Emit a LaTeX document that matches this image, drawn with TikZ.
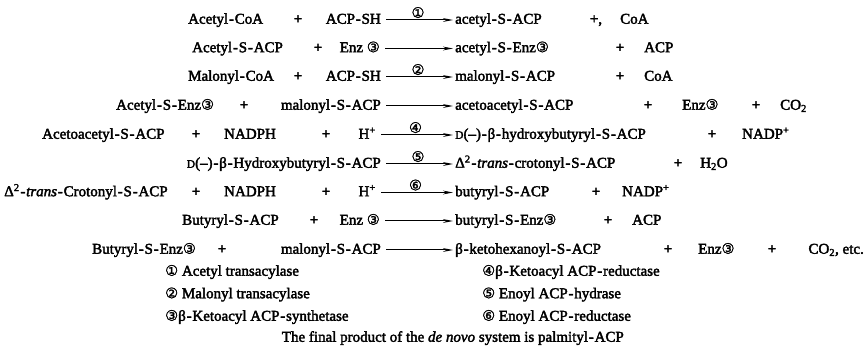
\documentclass[tikz,border=0pt]{standalone}
\usepackage{fontspec}
\setmainfont{Liberation Serif}[FakeBold=2.4]
\newfontfamily\symf{DejaVu Sans}[FakeBold=1.5]
\usetikzlibrary{arrows.meta}
\newcommand\hy{\kern0.8pt-\kern0.8pt}
\newcommand\cn[1]{{\symf\fontsize{14.5}{14.5}\selectfont #1}}
\newcommand\dsc{{\fontsize{11.5}{11.5}\selectfont D}}
\tikzset{
  term/.style={inner sep=0pt, text height=7.5pt, text depth=0pt, font=\fontsize{15}{16}\selectfont},
  tw/.style={term, anchor=west},
  te/.style={term, anchor=east},
  plus/.style={term, anchor=center},
  rx/.style={-{Stealth[length=10pt,width=3.8pt]}, line width=1pt, shorten <=5pt, shorten >=2pt},
  enz/.style={above=1.5pt, inner sep=0pt},
  leg/.style={term, anchor=west},
}
\begin{document}
\begin{tikzpicture}[x=1pt,y=-1pt]
\useasboundingbox (0,0) rectangle (866,352);
% reaction 1
\node[tw] (a1) at (188,20) {Acetyl\hy CoA};
\node[plus] (p1a) at (298,20) {+};
\node[te] (b1) at (381,20) {ACP\hy SH};
\node[tw] (c1) at (455,20) {acetyl\hy S\hy ACP};
\node[plus] (p1b) at (596,20) {+,};
\node[tw] (d1) at (620,20) {CoA};
\draw[rx] (b1) -- node[enz] (e1) {\cn{①}} (c1);
% reaction 2
\node[tw] (a2) at (192,48.5) {Acetyl\hy S\hy ACP};
\node[plus] (p2a) at (318,48.5) {+};
\node[te] (b2) at (380,48.5) {Enz \cn{③}};
\node[tw] (c2) at (455,48.5) {acetyl\hy S\hy Enz\cn{③}};
\node[plus] (p2b) at (620,48.5) {+};
\node[tw] (d2) at (644,48.5) {ACP};
\draw[rx] (b2) -- (c2);
% reaction 3
\node[tw] (a3) at (188,77) {Malonyl\hy CoA};
\node[plus] (p3a) at (298,77) {+};
\node[te] (b3) at (381,77) {ACP\hy SH};
\node[tw] (c3) at (455,77) {malonyl\hy S\hy ACP};
\node[plus] (p3b) at (620,77) {+};
\node[tw] (d3) at (644,77) {CoA};
\draw[rx] (b3) -- node[enz] (e2) {\cn{②}} (c3);
% reaction 4
\node[tw] (a4) at (116,106) {Acetyl\hy S\hy Enz\cn{③}};
\node[plus] (p4a) at (244,106) {+};
\node[te] (b4) at (381,106) {malonyl\hy S\hy ACP};
\node[tw] (c4) at (455,106) {acetoacetyl\hy S\hy ACP};
\node[plus] (p4b) at (648,106) {+};
\node[tw] (d4) at (682,106) {Enz\cn{③}};
\node[plus] (p4c) at (756,106) {+};
\node[tw] (f4) at (780,106) {CO\textsubscript{2}};
\draw[rx] (b4) -- (c4);
% reaction 5
\node[tw] (a5) at (42,135) {Acetoacetyl\hy S\hy ACP};
\node[plus] (p5a) at (196,135) {+};
\node[tw] (g5) at (224,135) {NADPH};
\node[plus] (p5b) at (326,135) {+};
\node[te] (b5) at (376,135) {H\textsuperscript{+}};
\node[tw] (c5) at (455,135) {\dsc(--)\hy β\hy hydroxybutyryl\hy S\hy ACP};
\node[plus] (p5c) at (712,135) {+};
\node[tw] (d5) at (742,135) {NADP\textsuperscript{+}};
\draw[rx] (b5) -- node[enz] (e4) {\cn{④}} (c5);
% reaction 6
\node[te] (b6) at (381,164) {\dsc(--)\hy β\hy Hydroxybutyryl\hy S\hy ACP};
\node[tw] (c6) at (455,164) {Δ\textsuperscript{2}\hy\textit{trans}\hy crotonyl\hy S\hy ACP};
\node[plus] (p6) at (678,164) {+};
\node[tw] (d6) at (700,164) {H\textsubscript{2}O};
\draw[rx] (b6) -- node[enz] (e5) {\cn{⑤}} (c6);
% reaction 7
\node[tw] (a7) at (4,192.5) {Δ\textsuperscript{2}\hy\textit{trans}\hy Crotonyl\hy S\hy ACP};
\node[plus] (p7a) at (196,192.5) {+};
\node[tw] (g7) at (224,192.5) {NADPH};
\node[plus] (p7b) at (326,192.5) {+};
\node[te] (b7) at (376,192.5) {H\textsuperscript{+}};
\node[tw] (c7) at (455,192.5) {butyryl\hy S\hy ACP};
\node[plus] (p7c) at (596,192.5) {+};
\node[tw] (d7) at (622,192.5) {NADP\textsuperscript{+}};
\draw[rx] (b7) -- node[enz] (e6) {\cn{⑥}} (c7);
% reaction 8
\node[tw] (a8) at (182,221) {Butyryl\hy S\hy ACP};
\node[plus] (p8a) at (314,221) {+};
\node[te] (b8) at (380,221) {Enz \cn{③}};
\node[tw] (c8) at (455,221) {butyryl\hy S\hy Enz\cn{③}};
\node[plus] (p8b) at (608,221) {+};
\node[tw] (d8) at (632,221) {ACP};
\draw[rx] (b8) -- (c8);
% reaction 9
\node[tw] (a9) at (92,250) {Butyryl\hy S\hy Enz\cn{③}};
\node[plus] (p9a) at (222,250) {+};
\node[te] (b9) at (381,250) {malonyl\hy S\hy ACP};
\node[tw] (c9) at (455,250) {β\hy ketohexanoyl\hy S\hy ACP};
\node[plus] (p9b) at (668,250) {+};
\node[tw] (d9) at (698,250) {Enz\cn{③}};
\node[plus] (p9c) at (772,250) {+};
\node[te] (f9) at (864,250) {CO\textsubscript{2}, etc.};
\draw[rx] (b9) -- (c9);
% enzyme key
\node[leg] (k1) at (165,272) {\cn{①} Acetyl transacylase};
\node[leg] (k2) at (165,294.5) {\cn{②} Malonyl transacylase};
\node[leg] (k3) at (165,317) {\cn{③}β\hy Ketoacyl ACP\hy synthetase};
\node[leg] (k4) at (482,272) {\cn{④}β\hy Ketoacyl ACP\hy reductase};
\node[leg] (k5) at (482,294.5) {\cn{⑤} Enoyl ACP\hy hydrase};
\node[leg] (k6) at (482,317) {\cn{⑥} Enoyl ACP\hy reductase};
\node[term, anchor=east] (fin) at (624,338) {The final product of the \textit{de novo} system is palmityl\hy ACP};
\end{tikzpicture}
\end{document}
